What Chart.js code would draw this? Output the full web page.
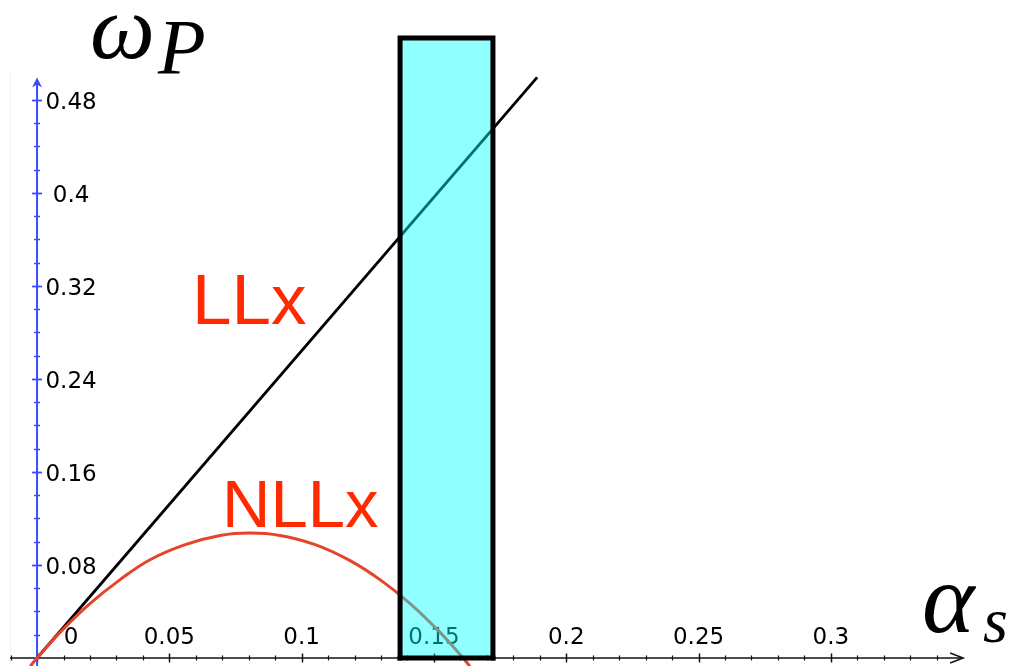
<!DOCTYPE html>
<html>
<head>
<meta charset="utf-8">
<script src="https://cdn.jsdelivr.net/npm/chart.js@4/dist/chart.umd.min.js"></script>
<style>
  html, body { margin: 0; padding: 0; background: #ffffff; }
  #wrap { width: 1015px; height: 666px; }
</style>
</head>
<body>
<div id="wrap"><canvas id="c" width="1015" height="666"></canvas></div>
<script>
// LLx: straight line in the (alpha_s, omega_P) plane
const llxAlpha = [0, 0.189];
const llxOmega = [0, 0.4995];

// NLLx: curved branch
const nllxAlpha = [-0.0026, 0, 0.0098, 0.02, 0.0314, 0.0427, 0.056, 0.0692, 0.0805, 0.0918, 0.1051, 0.1183, 0.1296, 0.141, 0.1523, 0.161, 0.1636];
const nllxOmega = [-0.0072, 0, 0.0246, 0.0468, 0.0674, 0.0845, 0.0975, 0.1054, 0.1075, 0.1054, 0.0975, 0.0838, 0.0674, 0.0468, 0.022, 0, -0.0072];

// highlighted alpha_s band
const bandAlpha = [0.1372, 0.1723];
const bandOmega = [0, 0.5333];

// axis tick labels
const xTickValues = [0, 0.05, 0.1, 0.15, 0.2, 0.25, 0.3];
const xTickLabels = ['0', '0.05', '0.1', '0.15', '0.2', '0.25', '0.3'];
const yTickValues = [0.08, 0.16, 0.24, 0.32, 0.4, 0.48];
const yTickLabels = ['0.08', '0.16', '0.24', '0.32', '0.4', '0.48'];

const toPoints = (xs, ys) => xs.map((x, i) => ({ x: x, y: ys[i] }));

// left side, top, right side of the band (filled down to omega = 0)
const bandOutline = [
  { x: bandAlpha[0], y: bandOmega[0] },
  { x: bandAlpha[0], y: bandOmega[1] },
  { x: bandAlpha[1], y: bandOmega[1] },
  { x: bandAlpha[1], y: bandOmega[0] }
];
// bottom side of the band
const bandBase = [
  { x: bandAlpha[0], y: bandOmega[0] },
  { x: bandAlpha[1], y: bandOmega[0] }
];

const TICK_FONT = '23px "DejaVu Sans", Verdana, sans-serif';
const MATH_FONT = '"Liberation Serif", "Times New Roman", serif';

const background = {
  id: 'background',
  beforeDraw(chart) {
    const ctx = chart.ctx;
    ctx.save();
    ctx.fillStyle = '#ffffff';
    ctx.fillRect(0, 0, chart.width, chart.height);
    ctx.strokeStyle = 'rgba(0,0,0,0.05)';
    ctx.lineWidth = 1;
    ctx.beginPath();
    ctx.moveTo(10.5, 72);
    ctx.lineTo(10.5, chart.height);
    ctx.stroke();
    ctx.restore();
  }
};

// crossing axes with arrows, drawn beneath the datasets
const crossAxes = {
  id: 'crossAxes',
  beforeDatasetsDraw(chart) {
    const ctx = chart.ctx;
    const xs = chart.scales.x, ys = chart.scales.y;
    const x0 = xs.getPixelForValue(0);
    const y0 = ys.getPixelForValue(0);
    ctx.save();

    // horizontal axis (black)
    const xEnd = xs.getPixelForValue(0.35);
    ctx.strokeStyle = '#111111';
    ctx.lineWidth = 1.5;
    ctx.beginPath();
    ctx.moveTo(xs.getPixelForValue(-0.0102), y0);
    ctx.lineTo(xEnd, y0);
    ctx.stroke();
    ctx.beginPath();
    ctx.moveTo(xEnd - 13, y0 - 5);
    ctx.lineTo(xEnd, y0);
    ctx.lineTo(xEnd - 13, y0 + 5);
    ctx.stroke();
    for (let k = -1; k <= 34; k++) {
      const v = k / 100;
      const px = Math.round(xs.getPixelForValue(v)) + 0.5;
      const major = k % 5 === 0;
      ctx.lineWidth = major ? 1.5 : 1.2;
      ctx.beginPath();
      ctx.moveTo(px, y0 - (major ? 4.5 : 2.5));
      ctx.lineTo(px, y0 + (major ? 4.5 : 2.5));
      ctx.stroke();
    }
    ctx.fillStyle = '#000000';
    ctx.font = TICK_FONT;
    ctx.textAlign = 'center';
    ctx.textBaseline = 'middle';
    xTickValues.forEach((v, i) => {
      let px = xs.getPixelForValue(v);
      if (v === 0) px += 34;
      ctx.fillText(xTickLabels[i], px, y0 - 20);
    });

    // vertical axis (blue)
    const yTop = ys.getPixelForValue(0.4985);
    ctx.strokeStyle = '#3b4cff';
    ctx.fillStyle = '#3b4cff';
    ctx.lineWidth = 2;
    ctx.beginPath();
    ctx.moveTo(x0, chart.height);
    ctx.lineTo(x0, yTop + 2);
    ctx.stroke();
    ctx.beginPath();
    ctx.moveTo(x0, yTop - 1);
    ctx.lineTo(x0 - 5, yTop + 9);
    ctx.lineTo(x0, yTop + 6);
    ctx.lineTo(x0 + 5, yTop + 9);
    ctx.closePath();
    ctx.fill();
    for (let k = 0; k <= 24; k++) {
      const v = k * 0.02;
      const py = Math.round(ys.getPixelForValue(v)) + 0.5;
      const major = k % 4 === 0 && k > 0;
      ctx.lineWidth = major ? 1.8 : 1.5;
      ctx.beginPath();
      ctx.moveTo(x0 - (major ? 5 : 3), py);
      ctx.lineTo(x0 + (major ? 5 : 3), py);
      ctx.stroke();
    }
    ctx.fillStyle = '#000000';
    ctx.font = TICK_FONT;
    ctx.textAlign = 'center';
    ctx.textBaseline = 'middle';
    yTickValues.forEach((v, i) => {
      ctx.fillText(yTickLabels[i], x0 + 34, ys.getPixelForValue(v) + 3);
    });
    ctx.restore();
  }
};

// series names and axis titles
const annotations = {
  id: 'annotations',
  afterDatasetsDraw(chart) {
    const ctx = chart.ctx;
    ctx.save();
    ctx.fillStyle = '#ff2a00';
    ctx.textAlign = 'left';
    ctx.textBaseline = 'alphabetic';
    ctx.font = '71px "Liberation Sans", Arial, Helvetica, sans-serif';
    ctx.fillText('LLx', 192, 324);
    ctx.font = '67px "Liberation Sans", Arial, Helvetica, sans-serif';
    ctx.fillText('NLLx', 222, 527);

    ctx.fillStyle = '#000000';
    ctx.font = 'italic 92px ' + MATH_FONT;
    ctx.fillText('ω', 90, 58);
    ctx.font = 'italic 78px ' + MATH_FONT;
    ctx.fillText('P', 158, 73);
    ctx.font = 'italic 100px ' + MATH_FONT;
    ctx.fillText('α', 922, 632);
    ctx.font = 'italic 64px ' + MATH_FONT;
    ctx.fillText('s', 983, 642);
    ctx.restore();
  }
};

new Chart(document.getElementById('c'), {
  type: 'line',
  data: {
    datasets: [
      {
        label: 'band base',
        data: bandBase,
        borderColor: '#000000',
        borderWidth: 5,
        borderCapStyle: 'square',
        pointRadius: 0,
        tension: 0,
        fill: false,
        order: -1
      },
      {
        label: 'band',
        data: bandOutline,
        borderColor: '#000000',
        borderWidth: 5,
        borderJoinStyle: 'miter',
        borderCapStyle: 'square',
        backgroundColor: 'rgba(0,255,255,0.44)',
        fill: 'origin',
        pointRadius: 0,
        tension: 0,
        order: 0
      },
      {
        label: 'NLLx',
        data: toPoints(nllxAlpha, nllxOmega),
        borderColor: '#e6432b',
        borderWidth: 3,
        pointRadius: 0,
        tension: 0.4,
        fill: false,
        order: 1
      },
      {
        label: 'LLx',
        data: toPoints(llxAlpha, llxOmega),
        borderColor: '#000000',
        borderWidth: 2.8,
        pointRadius: 0,
        tension: 0,
        fill: false,
        order: 2
      }
    ]
  },
  options: {
    responsive: false,
    animation: false,
    devicePixelRatio: 1,
    layout: { padding: 0 },
    plugins: {
      legend: { display: false },
      tooltip: { enabled: false },
      filler: { propagate: false }
    },
    scales: {
      x: { type: 'linear', min: -0.014, max: 0.3696, display: false },
      y: { type: 'linear', min: -0.0069, max: 0.566, display: false }
    }
  },
  plugins: [background, crossAxes, annotations]
});
</script>
</body>
</html>
